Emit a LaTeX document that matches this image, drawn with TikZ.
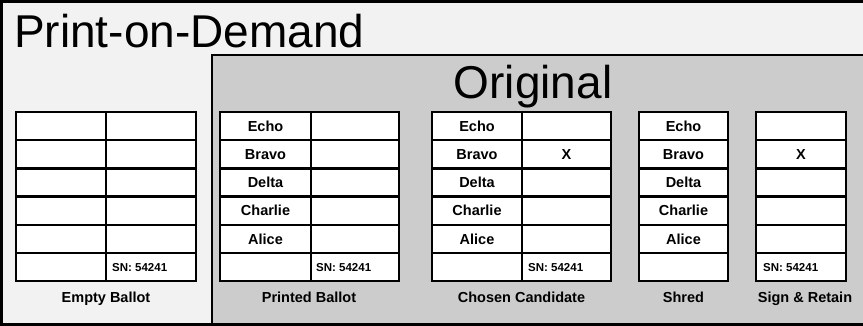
\documentclass[tikz,border=0pt]{standalone}
\usepackage{fontspec}
\setmainfont{Liberation Sans}
\definecolor{bgA}{HTML}{F2F2F2}
\definecolor{bgB}{HTML}{CCCCCC}
\begin{document}
\begin{tikzpicture}[x=1pt,y=-1pt,
  cell/.style={draw, line width=2.4pt, fill=white, minimum width=#1, minimum height=28.2pt, inner sep=0pt, font=\fontsize{14.5}{14.5}\selectfont\bfseries},
  sn/.style={anchor=west, inner sep=0pt, font=\fontsize{11.5}{11.5}\selectfont\bfseries},
  lbl/.style={anchor=base, inner sep=0pt, font=\fontsize{14.5}{14.5}\selectfont\bfseries},
  big/.style={anchor=base, inner sep=0pt, font=\fontsize{46}{46}\selectfont}]
\useasboundingbox (0,0) rectangle (863,326);
% frames
\draw[line width=2.2pt, fill=bgA] (1.5,1.5) rectangle (870,324.5);
\draw[line width=2.2pt, fill=bgB] (212,55) rectangle (870,324.5);
\node[big, anchor=base west] (title) at (14,48) {Print-on-Demand};
\node[big] (orig) at (533,99) {Original};
% Empty ballot
\foreach \i in {1,...,6}{
  \node[cell=90pt] (e-\i-a) at (61,{112+28.2*(\i-0.5)}) {};
  \node[cell=90pt] (e-\i-b) at (151,{112+28.2*(\i-0.5)}) {};
}
\node[sn] (e-sn) at (112,267.1) {SN: 54241};
\node[lbl] (e-lbl) at (106,302) {Empty Ballot};
% Printed ballot
\foreach \t/\i in {Echo/1,Bravo/2,Delta/3,Charlie/4,Alice/5}{
  \node[cell=91pt] (p-\i-a) at (265.5,{112+28.2*(\i-0.5)}) {\t};
  \node[cell=88pt] (p-\i-b) at (355,{112+28.2*(\i-0.5)}) {};
}
\node[cell=91pt] (p-6-a) at (265.5,267.1) {};
\node[cell=88pt] (p-6-b) at (355,267.1) {};
\node[sn] (p-sn) at (316,267.1) {SN: 54241};
\node[lbl] (p-lbl) at (309,302) {Printed Ballot};
% Chosen candidate
\foreach \t/\i in {Echo/1,Bravo/2,Delta/3,Charlie/4,Alice/5}{
  \node[cell=90pt] (c-\i-a) at (477,{112+28.2*(\i-0.5)}) {\t};
  \node[cell=89pt] (c-\i-b) at (566.5,{112+28.2*(\i-0.5)}) {};
}
\node[cell=90pt] (c-6-a) at (477,267.1) {};
\node[cell=89pt] (c-6-b) at (566.5,267.1) {};
\node[cell=89pt, draw=none, fill=none] (c-x) at (566.5,154.3) {X};
\node[sn] (c-sn) at (528,267.1) {SN: 54241};
\node[lbl] (c-lbl) at (521.5,302) {Chosen Candidate};
% Shred
\foreach \t/\i in {Echo/1,Bravo/2,Delta/3,Charlie/4,Alice/5}{
  \node[cell=89pt] (s-\i) at (683.5,{112+28.2*(\i-0.5)}) {\t};
}
\node[cell=89pt] (s-6) at (683.5,267.1) {};
\node[lbl] (s-lbl) at (683.5,302) {Shred};
% Sign & Retain
\foreach \i in {1,...,6}{
  \node[cell=90pt] (r-\i) at (801,{112+28.2*(\i-0.5)}) {};
}
\node[cell=90pt, draw=none, fill=none] (r-x) at (801,154.3) {X};
\node[sn] (r-sn) at (763,267.1) {SN: 54241};
\node[lbl] (r-lbl) at (805,302) {Sign \& Retain};
\end{tikzpicture}
\end{document}
